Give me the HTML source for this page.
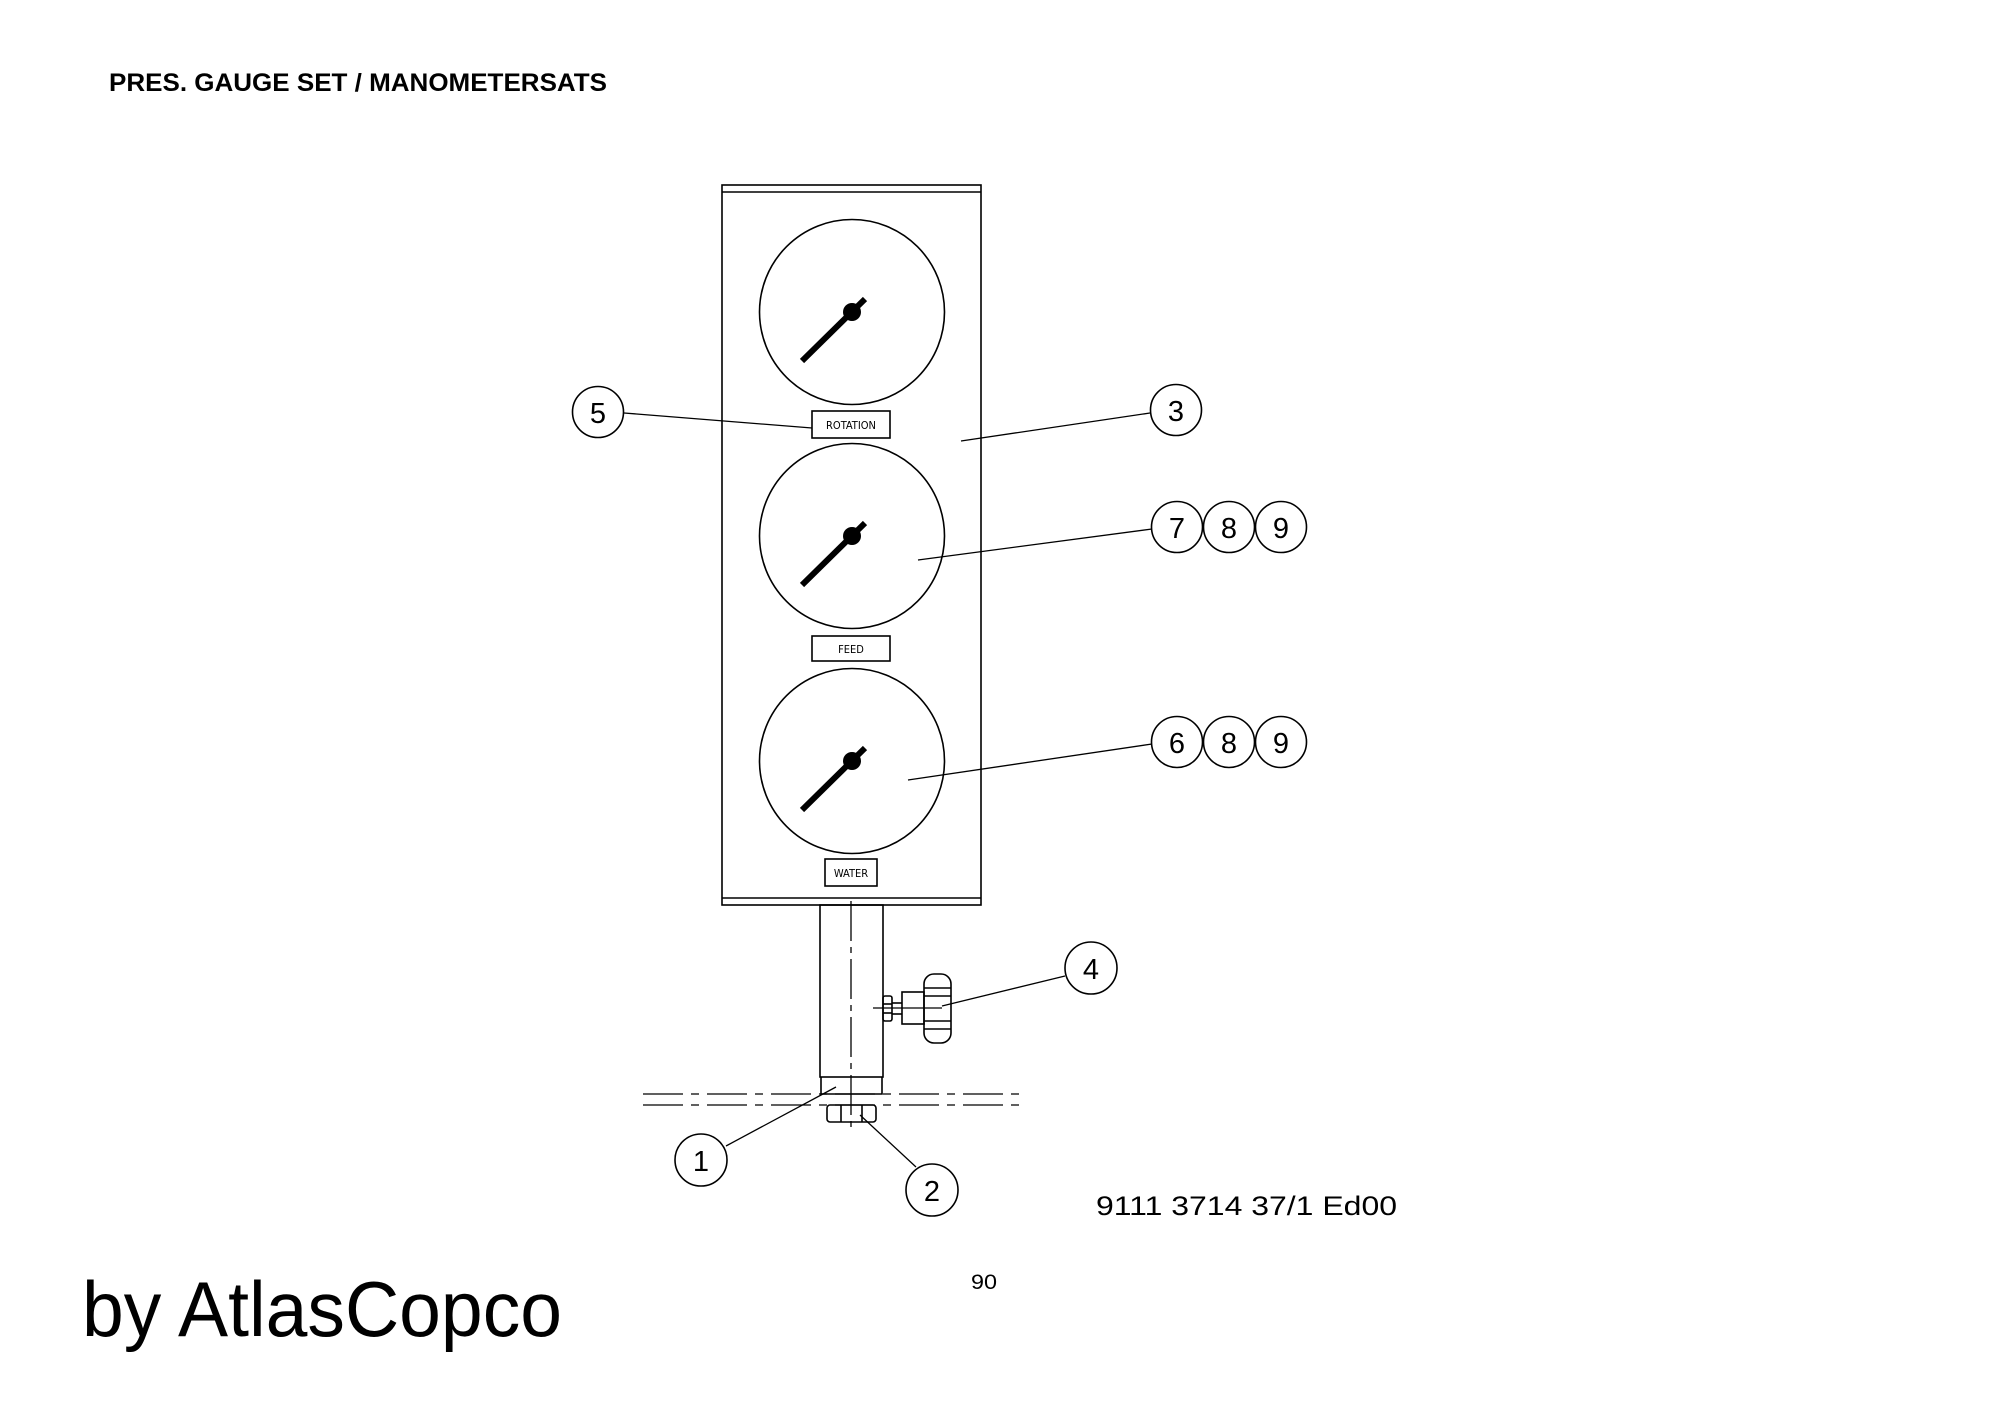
<!DOCTYPE html>
<html><head><meta charset="utf-8"><style>
html,body{margin:0;padding:0;background:#fff;}
svg{display:block;}
</style></head><body>
<svg width="2000" height="1415" viewBox="0 0 2000 1415" xmlns="http://www.w3.org/2000/svg">
<rect width="2000" height="1415" fill="#fff"/>
<text x="109" y="91" font-family="Liberation Sans, sans-serif" font-weight="bold" font-size="25" textLength="498" lengthAdjust="spacingAndGlyphs">PRES. GAUGE SET / MANOMETERSATS</text>

<g fill="none" stroke="#000" stroke-width="1.6">
<!-- panel -->
<rect x="722" y="185" width="259" height="720"/>
<line x1="722" y1="192" x2="981" y2="192"/>
<line x1="722" y1="898" x2="981" y2="898"/>
<!-- gauges -->
<circle cx="852" cy="312" r="92.5"/>
<circle cx="852" cy="536" r="92.5"/>
<circle cx="852" cy="761" r="92.5"/>
<!-- label boxes -->
<rect x="812" y="411" width="78" height="27"/>
<rect x="812" y="636" width="78" height="25"/>
<rect x="825" y="859" width="52" height="27"/>
<!-- pipe -->
<rect x="820" y="905" width="63" height="172"/>
<polyline points="821,1077 821,1094 882,1094 882,1077"/>
<line x1="851" y1="901" x2="851" y2="1128" stroke-dasharray="40,6,6,6" stroke-width="1.3"/>
<line x1="643" y1="1094" x2="1026" y2="1094" stroke-dasharray="40,8,8,8" stroke-width="1.3"/>
<line x1="643" y1="1105" x2="1026" y2="1105" stroke-dasharray="40,8,8,8" stroke-width="1.3"/>
<!-- nut -->
<rect x="827" y="1105" width="49" height="17" rx="3"/>
<line x1="841" y1="1105" x2="841" y2="1122"/>
<line x1="862" y1="1105" x2="862" y2="1122"/>
<!-- valve -->
<rect x="883" y="996" width="9" height="25" rx="2"/>
<line x1="883" y1="1004" x2="892" y2="1004"/><line x1="883" y1="1013" x2="892" y2="1013"/>
<line x1="892" y1="1003" x2="902" y2="1003"/><line x1="892" y1="1014" x2="902" y2="1014"/>
<rect x="902" y="992" width="22" height="32"/>
<rect x="924" y="974" width="27" height="69" rx="10"/>
<line x1="924" y1="988" x2="951" y2="988"/><line x1="924" y1="996" x2="951" y2="996"/>
<line x1="924" y1="1021" x2="951" y2="1021"/><line x1="924" y1="1029" x2="951" y2="1029"/>
<line x1="873" y1="1008" x2="942" y2="1008" stroke-width="1.2"/>
<!-- leaders -->
<line x1="624" y1="413" x2="812" y2="428" stroke-width="1.3"/>
<line x1="1150" y1="413" x2="961" y2="441" stroke-width="1.3"/>
<line x1="1152" y1="529" x2="918" y2="560" stroke-width="1.3"/>
<line x1="1152" y1="744" x2="908" y2="780" stroke-width="1.3"/>
<line x1="1065" y1="976" x2="942" y2="1006" stroke-width="1.3"/>
<line x1="726" y1="1146" x2="836" y2="1087" stroke-width="1.3"/>
<line x1="916" y1="1167" x2="860" y2="1115" stroke-width="1.3"/>
<!-- bubbles -->
<circle cx="598" cy="412" r="25.5"/>
<circle cx="1176" cy="410" r="25.5"/>
<circle cx="1177" cy="527" r="25.5"/><circle cx="1229" cy="527" r="25.5"/><circle cx="1281" cy="527" r="25.5"/>
<circle cx="1177" cy="742" r="25.5"/><circle cx="1229" cy="742" r="25.5"/><circle cx="1281" cy="742" r="25.5"/>
<circle cx="1091" cy="968" r="26"/>
<circle cx="701" cy="1160" r="26"/>
<circle cx="932" cy="1190" r="26"/>
</g>

<!-- needles -->
<g stroke="#000" stroke-width="6" stroke-linecap="butt">
<line x1="802" y1="361" x2="865" y2="299"/>
<line x1="802" y1="585" x2="865" y2="523"/>
<line x1="802" y1="810" x2="865" y2="748"/>
</g>
<g fill="#000">
<circle cx="852" cy="312" r="9"/>
<circle cx="852" cy="536" r="9"/>
<circle cx="852" cy="761" r="9"/>
</g>

<g font-family="DejaVu Sans Condensed, Liberation Sans Narrow, sans-serif" font-size="11" text-anchor="middle">
<text x="851" y="429">ROTATION</text>
<text x="851" y="653">FEED</text>
<text x="851" y="877">WATER</text>
</g>

<g font-family="Liberation Sans Narrow, Liberation Sans, sans-serif" font-size="29" text-anchor="middle" fill="#000" font-weight="normal">
<text x="598" y="423">5</text>
<text x="1176" y="421">3</text>
<text x="1177" y="538">7</text><text x="1229" y="538">8</text><text x="1281" y="538">9</text>
<text x="1177" y="753">6</text><text x="1229" y="753">8</text><text x="1281" y="753">9</text>
<text x="1091" y="979">4</text>
<text x="701" y="1171">1</text>
<text x="932" y="1201">2</text>
</g>

<text x="1096" y="1215" font-family="Liberation Sans, sans-serif" font-size="27" textLength="301" lengthAdjust="spacingAndGlyphs">9111 3714 37/1  Ed00</text>
<text x="971" y="1289" font-family="Liberation Sans, sans-serif" font-size="21" textLength="26" lengthAdjust="spacingAndGlyphs">90</text>
<text x="82" y="1336" font-family="Liberation Sans, sans-serif" font-size="78" textLength="480" lengthAdjust="spacingAndGlyphs">by AtlasCopco</text>
</svg>
</body></html>
